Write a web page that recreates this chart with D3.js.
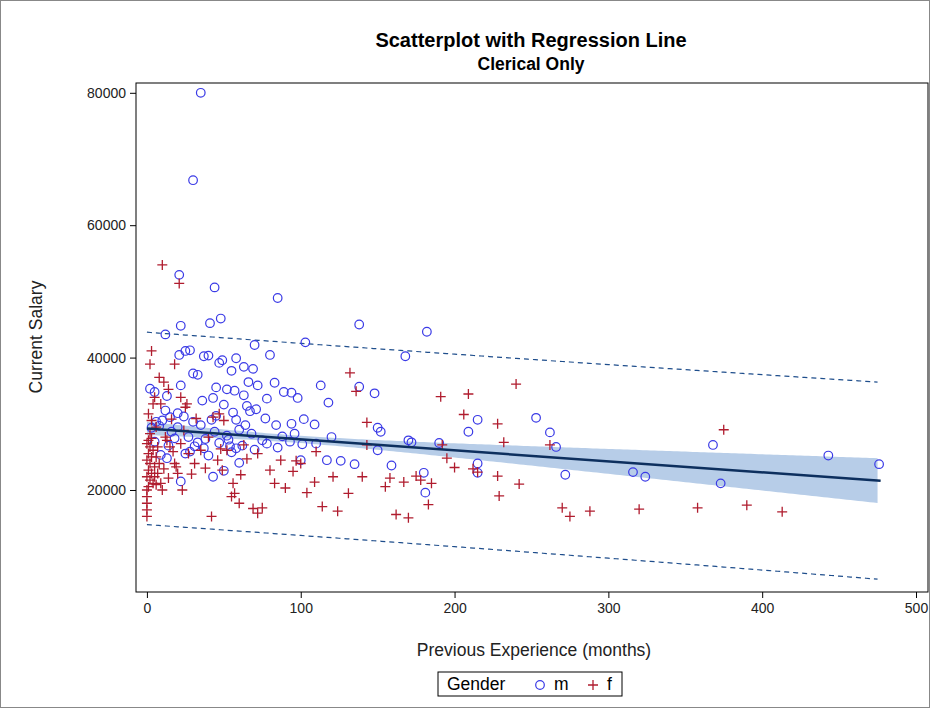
<!DOCTYPE html>
<html>
<head>
<meta charset="utf-8"/>
<title>Scatterplot with Regression Line</title>
<script src="https://cdn.jsdelivr.net/npm/d3@7"></script>
<style>
  body { margin: 0; background: #fff; }
  svg { font-family: Arial, "Liberation Sans", sans-serif; }
</style>
</head>
<body>
<svg id="chart" width="930" height="708"></svg>
<script>
// data: [previous experience (months), current salary]
var males = [[35,80000],[30,66800],[21,52500],[44,50600],[85,49000],[48,45900],[22,44800],[41,45200],[138,45000],[182,43900],
  [12,43500],[103,42300],[70,41900],[25,41000],[28,41100],[21,40400],[37,40200],[40,40300],[80,40400],[168,40200],
  [49,39600],[47,39200],[58,39900],[63,38600],[55,38000],[69,38300],[33,37400],[30,37600],[2,35300],[5,34800],
  [13,34200],[22,35800],[45,35500],[52,35200],[57,35000],[63,34300],[72,35800],[83,36200],[78,33800],[89,34800],
  [94,34700],[98,33900],[113,35800],[138,35600],[148,34600],[12,32000],[20,31600],[24,31100],[30,30300],[42,30600],
  [50,32900],[56,31700],[65,32700],[67,31900],[71,32200],[77,30800],[84,29800],[94,30000],[102,30700],[109,29900],
  [118,33200],[150,29400],[152,28800],[170,27500],[172,27200],[190,27100],[209,28800],[215,30600],[253,30900],[262,28700],
  [266,26500],[272,22300],[316,22700],[324,22000],[368,26800],[373,21000],[443,25200],[476,23900],[181,19600],[159,23700],
  [126,24400],[117,24500],[135,23900],[50,22900],[43,22000],[22,21300],[60,24100],[9,25300],[14,26700],[5,27300],
  [18,27800],[31,26600],[38,27700],[47,27100],[54,26600],[62,26700],[75,27500],[85,26400],[93,27300],[101,26900],
  [6,30300],[3,29400],[10,30500],[35,29800],[44,28800],[52,28200],[60,29100],[68,28500],[13,24800],[25,25500],
  [37,26300],[8,29700],[16,28800],[27,28000],[55,25700],[70,26100],[100,24500],[110,27000],[20,29500],[45,31200],
  [15,31000],[36,33500],[53,27600],[88,28100],[66,36300],[180,22600],[215,24000],[150,26000],[215,22600],
  [28,25800],[40,25200],[58,26300],[78,27000],[33,27200],[64,29800],[96,28500],[120,28000],[43,33900],[58,30600]];
var females = [[10,54000],[21,51200],[3,41000],[2,39000],[8,37000],[11,36300],[14,35200],[5,34000],[4,33000],[1,31500],
  [3,30500],[6,29500],[2,28500],[1,27500],[0,27000],[2,26500],[4,26000],[1,25500],[3,25000],[0,24500],
  [2,24000],[5,23500],[1,23000],[3,22500],[0,22000],[2,21500],[4,21000],[1,20500],[0,20000],[0,19000],
  [0,18000],[0,17000],[0,16000],[6,25000],[8,24000],[7,22500],[9,21000],[10,20000],[12,28000],[15,26500],
  [18,24000],[20,22500],[22,27000],[24,29000],[26,33000],[22,34000],[18,39000],[25,32500],[19,23500],[23,20000],
  [27,25500],[31,24000],[35,26000],[40,28000],[43,31000],[47,31500],[50,30500],[46,24500],[49,23000],[52,26000],
  [56,21000],[57,19500],[61,22300],[65,24700],[69,17200],[72,16500],[72,25500],[80,23000],[83,21000],[87,24500],
  [90,20300],[95,22800],[97,24400],[104,19600],[109,21200],[114,17500],[121,22000],[124,16800],[131,19500],[132,37700],
  [136,34900],[140,22000],[143,26800],[143,30200],[155,20500],[158,21800],[162,16300],[167,21200],[170,15800],[175,22100],
  [178,21500],[183,17800],[185,21000],[191,34100],[192,26800],[195,24800],[200,23400],[206,31400],[209,34500],[212,23200],
  [215,22700],[228,30000],[228,22100],[229,19100],[232,27200],[240,36000],[242,20900],[262,26800],[270,17300],[275,16000],
  [288,16800],[320,17100],[358,17300],[375,29100],[390,17700],[413,16700],[42,16000],[55,19000],[60,18000],[75,17300],
  [100,24000],[110,25800],[63,26800],[32,30800],[16,30700],[13,27500],[9,33000],
  [5,22000],[7,26500],[3,27800],[6,20800],[11,23200],[14,21800],[17,25800],[29,22400],[38,23300],[48,26200]];

// fit
var intercept = 29300, slope = -16.6, xMean = 95, ciA = 302500, ciB = 77.2, residSd = 14500;
var xTicks = [0, 100, 200, 300, 400, 500];
var yTicks = [20000, 40000, 60000, 80000];

var svg = d3.select("#chart");
var L = 136, T = 83, R = 928, B = 592;
var x = d3.scaleLinear().domain([-7.1, 507.8]).range([L, R]);
var y = d3.scaleLinear().domain([4590, 81480]).range([B, T]);

svg.append("rect").attr("x", 0.5).attr("y", 0.5).attr("width", 929).attr("height", 707)
  .attr("fill", "none").attr("stroke", "#888");

var xs = d3.range(0, 477.5, 2.5);
function fit(v) { return intercept + slope * v; }
function ci(v) { return Math.sqrt(ciA + ciB * (v - xMean) * (v - xMean)); }
function pi(v) { var c = ci(v); return Math.sqrt(residSd * residSd + c * c); }

svg.append("path").datum(xs)
  .attr("d", d3.area().x(function(d) { return x(d); })
    .y0(function(d) { return y(fit(d) - ci(d)); }).y1(function(d) { return y(fit(d) + ci(d)); }))
  .attr("fill", "#b7cde8");

[1, -1].forEach(function(s) {
  svg.append("path").datum(xs)
    .attr("d", d3.line().x(function(d) { return x(d); }).y(function(d) { return y(fit(d) + s * pi(d)); }))
    .attr("fill", "none").attr("stroke", "#1f4e8c").attr("stroke-width", 1.2).attr("stroke-dasharray", "5,4");
});

svg.selectAll(".m").data(males).enter().append("circle")
  .attr("cx", function(d) { return x(d[0]); }).attr("cy", function(d) { return y(d[1]); })
  .attr("r", 4.3).attr("fill", "none").attr("stroke", "#3a3ae6").attr("stroke-width", 1.2);

svg.selectAll(".f").data(females).enter().append("path")
  .attr("d", function(d) { var cx = x(d[0]), cy = y(d[1]);
    return "M" + (cx - 5) + "," + cy + "H" + (cx + 5) + "M" + cx + "," + (cy - 5) + "V" + (cy + 5); })
  .attr("stroke", "#b01c2e").attr("stroke-width", 1.3);

svg.append("path").datum([0, 477])
  .attr("d", d3.line().x(function(d) { return x(d); }).y(function(d) { return y(fit(d)); }))
  .attr("stroke", "#0d2f5e").attr("stroke-width", 2.5);

svg.append("rect").attr("x", L).attr("y", T).attr("width", R - L).attr("height", B - T)
  .attr("fill", "none").attr("stroke", "#000");

svg.append("g").attr("transform", "translate(0," + B + ")")
  .call(d3.axisBottom(x).tickValues(xTicks).tickSize(6).tickPadding(5))
  .call(function(g) { g.select(".domain").remove(); g.selectAll("text").attr("font-size", 14).attr("fill", "#222"); });
svg.append("g").attr("transform", "translate(" + L + ",0)")
  .call(d3.axisLeft(y).tickValues(yTicks).tickFormat(d3.format("d")).tickSize(6).tickPadding(4))
  .call(function(g) { g.select(".domain").remove(); g.selectAll("text").attr("font-size", 14).attr("fill", "#222"); });

svg.append("text").attr("x", 531).attr("y", 47).attr("text-anchor", "middle")
  .attr("font-size", 20).attr("font-weight", "bold").text("Scatterplot with Regression Line");
svg.append("text").attr("x", 531).attr("y", 70).attr("text-anchor", "middle")
  .attr("font-size", 17.5).attr("font-weight", "bold").text("Clerical Only");
svg.append("text").attr("x", 534).attr("y", 656).attr("text-anchor", "middle")
  .attr("font-size", 17.5).attr("fill", "#222").text("Previous Experience (months)");
svg.append("text").attr("transform", "translate(42,337) rotate(-90)").attr("text-anchor", "middle")
  .attr("font-size", 17.5).attr("fill", "#222").text("Current Salary");

var lg = svg.append("g");
lg.append("rect").attr("x", 438).attr("y", 672).attr("width", 184).attr("height", 24)
  .attr("fill", "none").attr("stroke", "#000");
lg.append("text").attr("x", 447).attr("y", 690).attr("font-size", 17.5).text("Gender");
lg.append("circle").attr("cx", 540).attr("cy", 685).attr("r", 4.3)
  .attr("fill", "none").attr("stroke", "#3a3ae6").attr("stroke-width", 1.2);
lg.append("text").attr("x", 554).attr("y", 690).attr("font-size", 17.5).text("m");
lg.append("path").attr("d", "M588,685H598M593,680V690").attr("stroke", "#b01c2e").attr("stroke-width", 1.3);
lg.append("text").attr("x", 607).attr("y", 690).attr("font-size", 17.5).text("f");
</script>
</body>
</html>
